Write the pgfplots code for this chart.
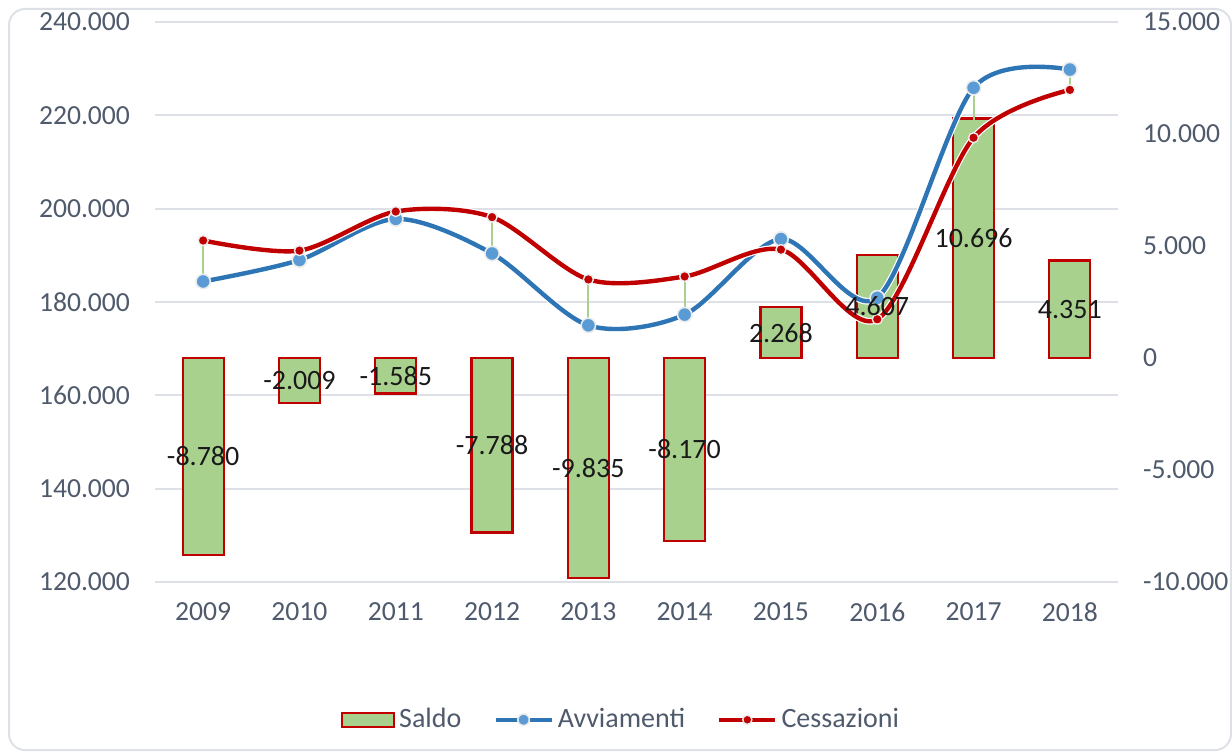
\documentclass[border=0pt]{standalone}
\usepackage{pgfplots}
\pgfplotsset{compat=1.18}
\usepackage{pgfplotstable}
\usepackage{fontspec}
\setmainfont{Carlito}
\definecolor{txt}{HTML}{4F5A6C}
\definecolor{gridc}{HTML}{DDE1E7}
\definecolor{barfill}{HTML}{A9D18E}
\definecolor{barred}{HTML}{C00000}
\definecolor{avv}{HTML}{2E75B6}
\definecolor{avvm}{HTML}{5B9BD5}
\definecolor{cess}{HTML}{C00000}
\definecolor{drop}{HTML}{A9D18E}

\pgfplotstableread{
x year avv cess saldo
0 2009 184400 193180 -8780
1 2010 189000 191009 -2009
2 2011 197800 199385 -1585
3 2012 190400 198188 -7788
4 2013 175000 184835 -9835
5 2014 177300 185470 -8170
6 2015 193500 191232 2268
7 2016 180900 176293 4607
8 2017 225900 215204 10696
9 2018 229800 225449 4351
}\data

\pgfplotstableread{
x y
0 184400
0 193180
0 nan
1 189000
1 191009
1 nan
2 197800
2 199385
2 nan
3 190400
3 198188
3 nan
4 175000
4 184835
4 nan
5 177300
5 185470
5 nan
6 193500
6 191232
6 nan
7 180900
7 176293
7 nan
8 225900
8 215204
8 nan
9 229800
9 225449
}\drops

\pgfplotsset{
  base/.style={
    at={(77.5pt,85pt)}, anchor=south west,
    scale only axis, width=481.5pt, height=280pt,
    xmin=-0.5, xmax=9.5,
    axis line style={draw=none},
    major tick length=0pt, tick style={draw=none},
    ticklabel style={font=\fontsize{13.8}{16}\selectfont, text=txt},
    scaled y ticks=false,
    /pgf/number format/assume math mode=true,
    /pgf/number format/fixed,
    /pgf/number format/precision=0,
    /pgf/number format/1000 sep={.},
  },
  barleg/.style={legend image code/.code={\draw[fill=barfill, draw=barred, line width=1.1pt] (0pt,-3.5pt) rectangle (26pt,3.5pt);}},
  lineleg/.style={legend image code/.code={\draw[mark repeat=2, mark phase=2, ##1, mark size=#1] plot coordinates {(0pt,0pt) (14pt,0pt) (28pt,0pt)};}},
}

\begin{document}
\begin{tikzpicture}
\path[use as bounding box] (0,0) rectangle (616pt,376pt);
\draw[gridc, line width=1pt, rounded corners=8pt] (4.5pt,1pt) rectangle (615.5pt,371.5pt);

% gridlines, left axis and categories
\begin{axis}[base,
  ymin=120000, ymax=240000, ytick distance=20000,
  ymajorgrids, grid style={gridc, line width=1pt},
  xtick={0,1,2,3,4,5,6,7,8,9},
  xticklabels={2009,2010,2011,2012,2013,2014,2015,2016,2017,2018},
  yticklabel style={anchor=east, xshift=-9pt},
  xticklabel style={anchor=north, yshift=-7pt},
]
\addplot[draw=none] coordinates {(0,120000)};
\end{axis}

% bars on right axis
\begin{axis}[base,
  ymin=-10000, ymax=15000, ytick distance=5000,
  axis y line*=right, axis x line=none,
  yticklabel style={anchor=west, xshift=9pt},
]
\addplot[ybar, bar width=20.5pt, bar shift=0pt, fill=barfill, draw=barred, line width=1.1pt]
  table[x=x, y=saldo]{\data};
\end{axis}

% lines
\begin{axis}[base,
  ymin=120000, ymax=240000, hide axis,
  legend style={at={(0.485,-0.246)}, anchor=center, draw=none, fill=none,
    font=\fontsize{14}{16}\selectfont, text=txt,
    /tikz/every even column/.append style={column sep=14pt}},
  legend columns=3,
]
\addplot[drop, line width=1pt, unbounded coords=jump, forget plot] table[x=x, y=y]{\drops};
\addlegendimage{barleg}
\addlegendentry{Saldo}
\addplot[white, line width=3.4pt, smooth, forget plot] table[x=x, y=avv]{\data};
\addplot[avv, line width=2.2pt, smooth, mark=*, mark size=3.6pt,
  mark options={fill=avvm, draw=white!85!gray, line width=0.8pt}, lineleg=2.9pt]
  table[x=x, y=avv]{\data};
\addlegendentry{Avviamenti}
\addplot[white, line width=3.4pt, smooth, forget plot] table[x=x, y=cess]{\data};
\addplot[cess, line width=2.2pt, smooth, mark=*, mark size=2.5pt,
  mark options={fill=cess, draw=white!85!gray, line width=0.7pt}, lineleg=2.3pt]
  table[x=x, y=cess]{\data};
\addlegendentry{Cessazioni}
\end{axis}

% data labels on top
\begin{axis}[base,
  ymin=-10000, ymax=15000, hide axis,
]
\addplot[draw=none, mark=none, nodes near coords, point meta=explicit,
  nodes near coords style={anchor=center, font=\fontsize{14}{16}\selectfont, text=black!90}]
  table[x=x, y expr=\thisrow{saldo}/2, meta=saldo]{\data};
\end{axis}
\end{tikzpicture}
\end{document}
